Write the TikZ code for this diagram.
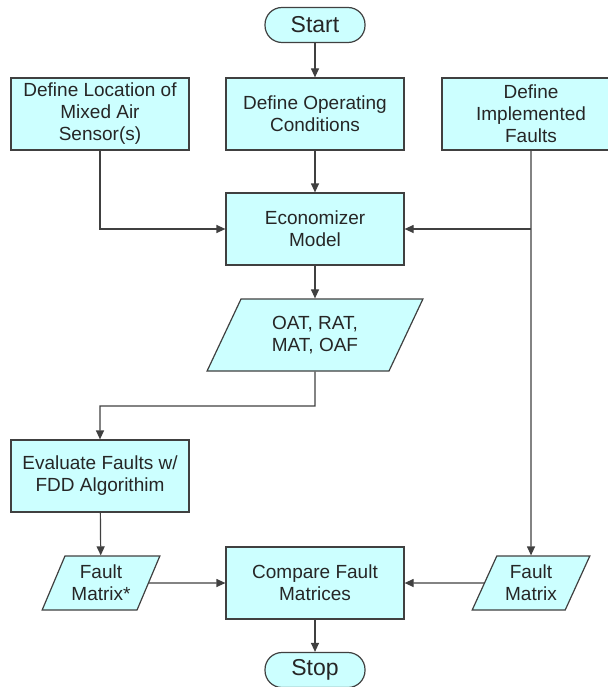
\documentclass[tikz,border=0pt]{standalone}
\usepackage{fontspec}
\setmainfont{Liberation Sans}
\usetikzlibrary{shapes.geometric,arrows.meta}

\definecolor{boxfill}{HTML}{CCFFFF}
\definecolor{boxline}{HTML}{404040}

\tikzset{
    procbox/.style={draw=boxline, fill=boxfill, line width=1.2pt, text=black!85,
        minimum width=178pt, minimum height=72pt, inner sep=1pt, align=center,
        font=\fontsize{19}{22}\selectfont},
    iobox/.style={trapezium, trapezium left angle=63, trapezium right angle=117,
        trapezium stretches=true, draw=boxline, fill=boxfill, line width=1.2pt,
        text=black!85, inner sep=1pt, align=center, font=\fontsize{19}{22}\selectfont},
    termbox/.style={draw=boxline, fill=boxfill, line width=1.2pt, text=black!85,
        rounded corners=17pt, minimum width=100pt, minimum height=35pt,
        font=\fontsize{23}{26}\selectfont},
    flowline/.style={draw=boxline, line width=1.2pt, -{Triangle[length=9pt,width=8pt]}},
}

\begin{document}
\begin{tikzpicture}[x=1pt,y=-1pt]
    \useasboundingbox (0,0) rectangle (607,687);

    % top row
    \node[termbox] (start) at (315,25) {Start};
    \node[procbox] (defloc) at (100,114) {Define Location of\\Mixed Air\\Sensor(s)};
    \node[procbox] (defop) at (315,114) {Define Operating\\Conditions};
    \node[procbox] (defimp) at (531,114) {Define\\Implemented\\Faults};

    % middle
    \node[procbox] (econ) at (315,229) {Economizer\\Model};
    \node[iobox, minimum width=216pt, minimum height=72pt] (oat) at (315,335) {OAT, RAT,\\MAT, OAF};
    \coordinate (split) at (315,406);
    \node[procbox] (eval) at (100,476) {Evaluate Faults w/\\FDD Algorithim};

    % bottom row
    \node[iobox, minimum width=118pt, minimum height=54pt] (fmstar) at (101,583) {Fault\\Matrix*};
    \node[procbox] (compare) at (315,583) {Compare Fault\\Matrices};
    \node[iobox, minimum width=118pt, minimum height=54pt] (fm) at (531,583) {Fault\\Matrix};
    \node[termbox] (stop) at (315,670) {Stop};

    % connectors
    \draw[flowline] (start) -- (defop);
    \draw[flowline] (defop) -- (econ);
    \draw[flowline] (defloc.south) |- (econ.west);
    \draw[flowline] (defimp.south) -- (fm.north);
    \draw[flowline] (defimp.south |- econ.east) -- (econ.east);
    \draw[flowline] (econ) -- (oat);
    \draw[flowline] (oat.south) -- (split) -| (eval.north);
    \draw[flowline] (eval) -- (fmstar);
    \draw[flowline] (fmstar.east) -- (compare.west);
    \draw[flowline] (fm.west) -- (compare.east);
    \draw[flowline] (compare) -- (stop);
\end{tikzpicture}
\end{document}
